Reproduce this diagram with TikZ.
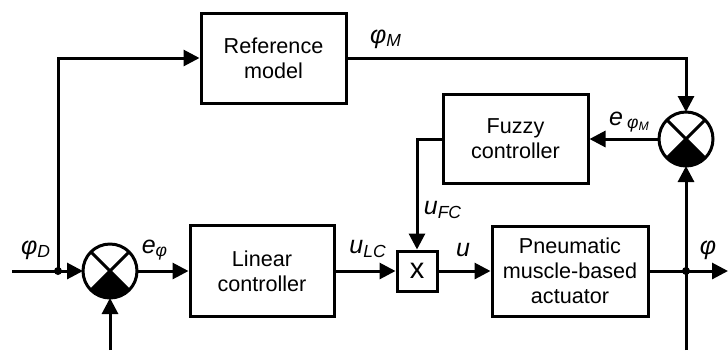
\documentclass[tikz,border=0pt]{standalone}
\usepackage{fontspec}
\setmainfont{Liberation Sans}
\usetikzlibrary{arrows.meta}
\newcommand{\sig}[2]{\textit{#1}\textsubscript{\textit{#2}}}
\begin{document}
\begin{tikzpicture}[x=0.5pt,y=-0.5pt,line width=1.5pt,
  >={Triangle[length=8pt,width=8pt]},
  block/.style={draw,align=center,inner sep=0pt,font=\fontsize{10.8}{12.6}\selectfont},
  sumnode/.style={draw,circle,minimum size=27pt,inner sep=0pt,outer sep=0pt,
    path picture={
      \fill (path picture bounding box.center) -- (path picture bounding box.south west)
        -- (path picture bounding box.south east) -- cycle;
      \draw (path picture bounding box.north west) -- (path picture bounding box.south east)
        (path picture bounding box.north east) -- (path picture bounding box.south west);}},
  lbl/.style={inner sep=0pt,font=\fontsize{12.5}{14}\selectfont\itshape}]
\useasboundingbox (0,0) rectangle (728,350);
\node[block,minimum width=72.5pt,minimum height=45pt] (refm) at (273.5,58) {Reference\\model};
\node[block,minimum width=72pt,minimum height=45.5pt] (lin) at (262,271) {Linear\\controller};
\node[block,minimum width=72.5pt,minimum height=44.5pt] (fuzzy) at (515.5,139) {Fuzzy\\controller};
\node[block,minimum width=78pt,minimum height=45pt] (pneu) at (570,271) {Pneumatic\\muscle-based\\actuator};
\node[block,minimum size=20pt,font=\fontsize{14.5}{16}\selectfont] (mult) at (417,271) {x};
\node[sumnode] (sumL) at (110,271) {};
\node[sumnode] (sumR) at (686,139) {};
\coordinate (in) at (12,271);
\coordinate (jD) at (58,271);
\coordinate (bL) at (110,350);
\coordinate (jOut) at (686,271);
\coordinate (out) at (728,271);
\coordinate (bR) at (686,350);
\coordinate (fz) at (417,139);
\draw[->] (in) -- (sumL);
\draw[->] (jD) |- (refm);
\draw[->] (bL) -- (sumL);
\draw[->] (sumL) -- (lin);
\draw[->] (lin) -- (mult);
\draw[->] (mult) -- (pneu);
\draw[->] (pneu) -- (out);
\draw[->] (bR) -- (sumR);
\draw[->] (refm) -| (sumR);
\draw[->] (sumR) -- (fuzzy);
\draw[->] (fuzzy) -- (fz) -- (mult);
\fill (jD) circle[radius=2pt];
\fill (jOut) circle[radius=2pt];
\node[lbl] (phiD) at (36,250) {\sig{φ}{D}};
\node[lbl] (ephi) at (155,250) {\sig{e}{φ}};
\node[lbl] (uLC) at (368,249) {\sig{u}{LC}};
\node[lbl] (uFC) at (443,210) {\sig{u}{FC}};
\node[lbl] (u) at (463,250) {u};
\node[lbl] (phi) at (708,250) {φ};
\node[lbl] (phiM) at (386,39) {\sig{φ}{M}};
\node[lbl] (ephiM) at (630,122) {\textit{e}\,\textsubscript{\textit{φ}\textsubscript{\textit{M}}}};
\end{tikzpicture}
\end{document}
